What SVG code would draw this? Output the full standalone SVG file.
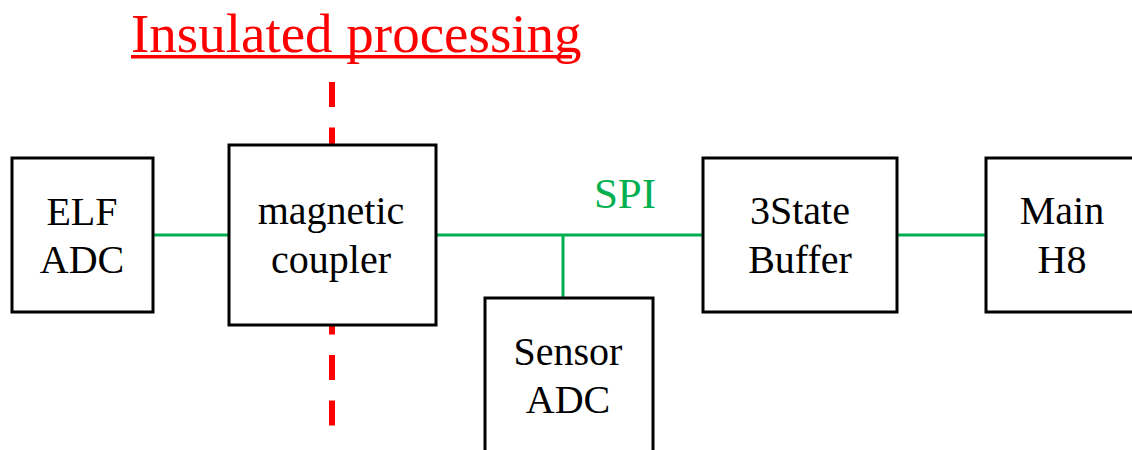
<svg xmlns="http://www.w3.org/2000/svg" width="1132" height="450" viewBox="0 0 1132 450">
<rect width="1132" height="450" fill="#fff"/>
<g id="insulation">
<line x1="332" y1="82" x2="332" y2="426" stroke="#FF0000" stroke-width="6" stroke-dasharray="25 20.5"/>
<text x="131" y="52" font-family="Times New Roman" style="font-family:'Times New Roman'" font-size="55" fill="#FF0000">Insulated processing</text>
<rect x="131" y="55" width="441" height="3.5" fill="#FF0000"/>
</g>
<g id="connectors" stroke="#00B050" stroke-width="3" fill="none">
<line x1="153" y1="235" x2="229" y2="235"/>
<line x1="436" y1="235" x2="703" y2="235"/>
<line x1="563" y1="235" x2="563" y2="298"/>
<line x1="897" y1="235" x2="986" y2="235"/>
<text x="625" y="208" font-family="Times New Roman" style="font-family:'Times New Roman'" font-size="43" fill="#00B050" stroke="none" text-anchor="middle">SPI</text>
</g>
<g id="elf-adc" font-size="40" text-anchor="middle">
<rect x="12" y="158" width="141" height="154" fill="#fff" stroke="#000" stroke-width="3"/>
<text x="82" y="225" font-family="Times New Roman" style="font-family:'Times New Roman'">ELF</text>
<text x="82" y="273" font-family="Times New Roman" style="font-family:'Times New Roman'">ADC</text>
</g>
<g id="magnetic-coupler" font-size="40" text-anchor="middle">
<rect x="229" y="145" width="207" height="180" fill="#fff" stroke="#000" stroke-width="3"/>
<text x="331" y="224" font-family="Times New Roman" style="font-family:'Times New Roman'">magnetic</text>
<text x="331" y="273" font-family="Times New Roman" style="font-family:'Times New Roman'">coupler</text>
</g>
<g id="sensor-adc" font-size="40" text-anchor="middle">
<rect x="485" y="298" width="168" height="170" fill="#fff" stroke="#000" stroke-width="3"/>
<text x="568" y="365" font-family="Times New Roman" style="font-family:'Times New Roman'">Sensor</text>
<text x="568" y="413" font-family="Times New Roman" style="font-family:'Times New Roman'">ADC</text>
</g>
<g id="tristate-buffer" font-size="40" text-anchor="middle">
<rect x="703" y="158" width="194" height="154" fill="#fff" stroke="#000" stroke-width="3"/>
<text x="800" y="224" font-family="Times New Roman" style="font-family:'Times New Roman'">3State</text>
<text x="800" y="273" font-family="Times New Roman" style="font-family:'Times New Roman'">Buffer</text>
</g>
<g id="main-h8" font-size="40" text-anchor="middle">
<rect x="986" y="158" width="170" height="154" fill="#fff" stroke="#000" stroke-width="3"/>
<text x="1062" y="224" font-family="Times New Roman" style="font-family:'Times New Roman'">Main</text>
<text x="1062" y="273" font-family="Times New Roman" style="font-family:'Times New Roman'">H8</text>
</g>
</svg>
